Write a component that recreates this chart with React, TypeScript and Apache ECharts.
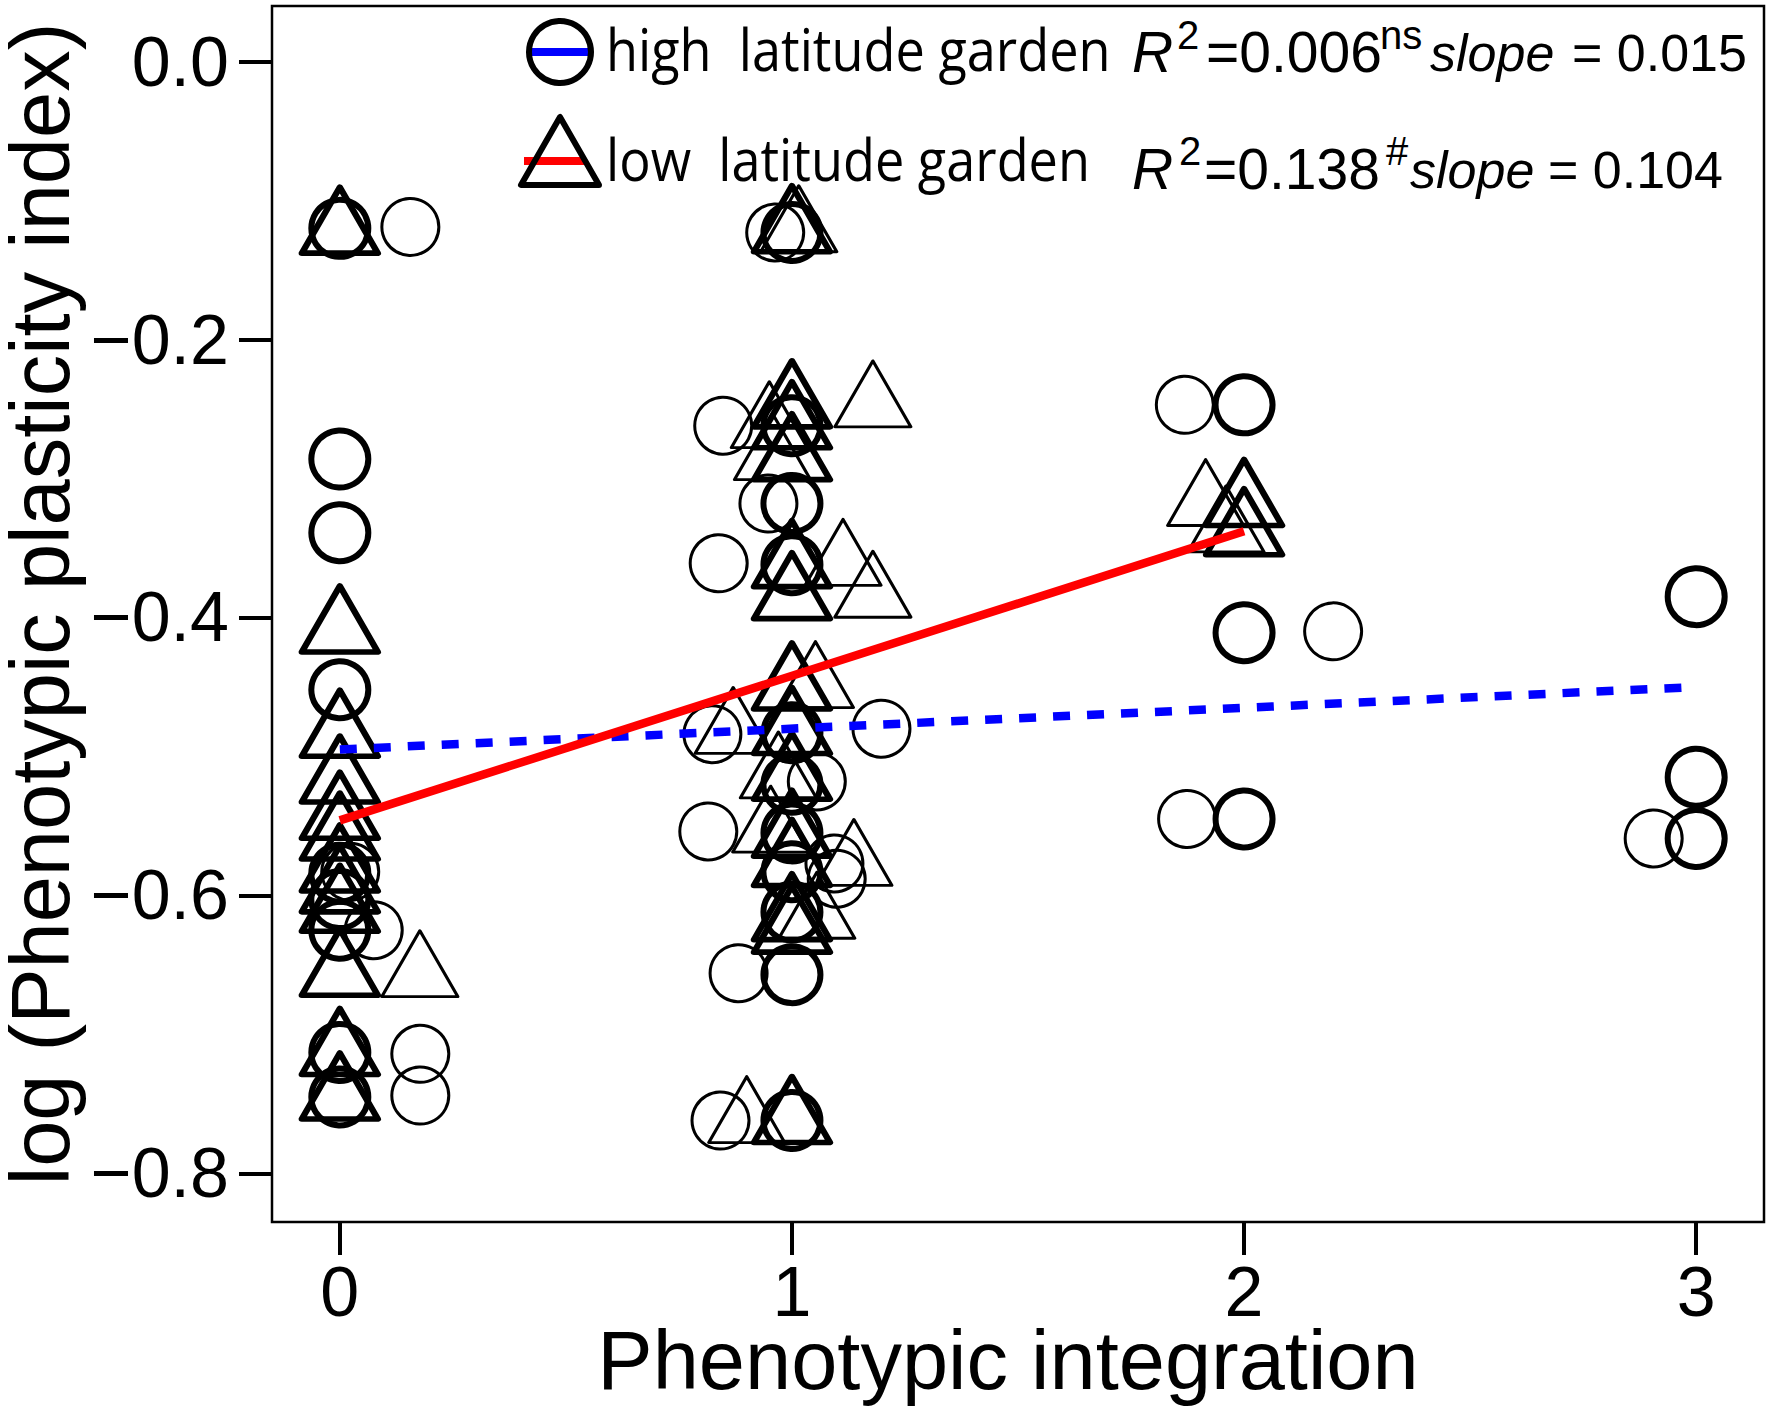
import React, { useEffect, useRef } from 'react';
import * as echarts from 'echarts';

// ---- axis ticks ----
const xTicks = [0, 1, 2, 3];
const yTicks = [0, -0.2, -0.4, -0.6, -0.8];

// ---- high latitude garden (circles) ----
const highExact: number[][] = [
  [0, -0.120], [0, -0.286], [0, -0.339], [0, -0.452], [0, -0.584], [0, -0.603], [0, -0.625], [0, -0.713], [0, -0.745],
  [1, -0.123], [1, -0.262], [1, -0.318], [1, -0.362], [1, -0.483], [1, -0.520], [1, -0.555], [1, -0.583], [1, -0.612], [1, -0.657], [1, -0.762],
  [2, -0.247], [2, -0.411], [2, -0.545],
  [3, -0.385], [3, -0.515], [3, -0.559],
];
const highJitter: number[][] = [
  [0.156, -0.119], [0.023, -0.583], [0.075, -0.625], [0.178, -0.714], [0.178, -0.744],
  [0.963, -0.123], [0.848, -0.262], [0.948, -0.318], [0.838, -0.361], [0.824, -0.484], [1.198, -0.480], [1.055, -0.518],
  [0.815, -0.554], [1.094, -0.577], [1.099, -0.588], [0.882, -0.656], [0.842, -0.762],
  [1.869, -0.247], [2.197, -0.410], [1.874, -0.545],
  [2.906, -0.559],
];

// ---- low latitude garden (triangles) ----
const lowExact: number[][] = [
  [0, -0.122], [0, -0.409], [0, -0.484], [0, -0.517], [0, -0.543], [0, -0.558], [0, -0.581], [0, -0.596], [0, -0.610], [0, -0.656], [0, -0.713], [0, -0.745],
  [1, -0.121], [1, -0.247], [1, -0.262], [1, -0.285], [1, -0.362], [1, -0.385], [1, -0.450], [1, -0.482], [1, -0.515], [1, -0.556], [1, -0.577], [1, -0.616], [1, -0.625], [1, -0.762],
  [2, -0.318], [2, -0.339],
];
const lowJitter: number[][] = [
  [0.177, -0.657],
  [1.015, -0.121], [1.179, -0.247], [0.950, -0.262], [0.957, -0.285], [1.113, -0.361], [1.179, -0.384],
  [1.052, -0.449], [0.870, -0.482], [0.970, -0.514], [0.953, -0.553], [1.137, -0.577], [1.055, -0.615], [0.900, -0.762],
  [1.915, -0.318], [1.960, -0.337],
];

// ---- fitted lines ----
const highFit: number[][] = [[0, -0.495], [3, -0.450]];
const lowFit: number[][] = [[0, -0.546], [2, -0.338]];

// ---- texts ----
const legendLabels = ['high\u00a0 latitude garden', 'low\u00a0 latitude garden'];
const r2Values = ['=0.006', '=0.138'];
const r2Marks = ['ns', '#'];
const slopeValues = ['= 0.015', '= 0.104'];
const xTitle = 'Phenotypic integration';
const yTitle = 'log (Phenotypic plasticity index)';

const HELV = '"Liberation Sans", Arial, Helvetica, sans-serif';
const MYR = '"Open Sans", "Noto Sans", sans-serif';

function textWidth(text: string, font: string): number {
  const c = document.createElement('canvas').getContext('2d');
  if (!c) return 0;
  c.font = font;
  return c.measureText(text).width;
}

function txt(x: number, y: number, text: string, size: number, family: string, extra: any = {}, elExtra: any = {}) {
  return {
    type: 'text',
    x,
    y,
    silent: true,
    ...elExtra,
    style: {
      text,
      x: 0,
      y: 0,
      fill: '#000',
      fontSize: size,
      fontFamily: family,
      align: 'left',
      verticalAlign: 'middle',
      lineHeight: Math.round(size * 0.85),
      ...extra,
    },
  };
}

function buildOption() {
  const legSize = 59;
  const w1 = textWidth(legendLabels[0], `${legSize}px "Open Sans"`) || 560;
  const legScale = 505 / w1;

  const graphic: any[] = [];
  // legend symbols
  graphic.push({
    type: 'line', silent: true,
    shape: { x1: 532, y1: 52, x2: 588, y2: 52 },
    style: { stroke: '#0000ff', lineWidth: 8 },
  });
  graphic.push({
    type: 'circle', silent: true,
    shape: { cx: 560, cy: 52, r: 31 },
    style: { fill: 'none', stroke: '#000', lineWidth: 6 },
  });
  graphic.push({
    type: 'line', silent: true,
    shape: { x1: 524, y1: 161, x2: 586, y2: 161 },
    style: { stroke: '#ff0000', lineWidth: 8 },
  });
  graphic.push({
    type: 'polygon', silent: true,
    shape: { points: [[560, 117], [521, 185], [599, 185]] },
    style: { fill: 'none', stroke: '#000', lineWidth: 6, lineJoin: 'round' },
  });
  // legend labels
  const legBase = [71, 181];
  legendLabels.forEach((lab, i) => {
    graphic.push(txt(606, legBase[i] - 0.388 * legSize, lab, legSize, MYR, {}, { scaleX: legScale }));
  });

  // R^2 and slope annotations
  const base = [71.5, 188.4];
  const supBase = [48.5, 165];
  const rX = [1132, 1132];
  const supX = [1177, 1179];
  const valX = [1206, 1204];
  const markX = [1380, 1386];
  const slopeX = [1430, 1410];
  const slopeValX = [1572, 1548];
  const vSize = 57;
  for (let i = 0; i < 2; i++) {
    const yb = base[i] - 0.3465 * vSize;
    const ys = supBase[i] - 0.3465 * 40;
    const ysl = base[i] - 0.3465 * 52;
    graphic.push(txt(rX[i], yb, 'R', vSize, HELV, { fontStyle: 'italic' }));
    graphic.push(txt(supX[i], ys, '2', 40, HELV));
    graphic.push(txt(valX[i], yb, r2Values[i], vSize, HELV));
    graphic.push(txt(markX[i], ys, r2Marks[i], 40, HELV));
    graphic.push(txt(slopeX[i], ysl, 'slope', 52, HELV, { fontStyle: 'italic' }));
    graphic.push(txt(slopeValX[i], ysl, slopeValues[i], 52, HELV));
  }

  // axis titles
  graphic.push(txt(1008, 1360, xTitle, 83, HELV, { align: 'center' }));
  graphic.push(txt(40, 604, yTitle, 83, HELV, { align: 'center' }, { rotation: Math.PI / 2 }));

  const circleStyle = (w: number) => ({ color: 'rgba(0,0,0,0)', borderColor: '#000', borderWidth: w, opacity: 1 });
  const triStyle = (w: number) => ({ color: 'rgba(0,0,0,0)', borderColor: '#000', borderWidth: w, borderJoin: 'round', opacity: 1 });

  return {
    animation: false,
    backgroundColor: '#ffffff',
    grid: {
      left: 272, top: 6, width: 1492, height: 1216,
      show: true, borderColor: '#000', borderWidth: 2.5, backgroundColor: 'transparent',
    },
    xAxis: {
      type: 'value', min: -0.15, max: 3.15,
      axisLine: { show: false, onZero: false },
      splitLine: { show: false },
      axisTick: { show: true, length: 33, customValues: xTicks, lineStyle: { color: '#000', width: 4 } },
      axisLabel: {
        show: true, customValues: xTicks, margin: 70, fontSize: 70, lineHeight: 56, fontFamily: HELV, color: '#000',
        verticalAlign: 'middle', formatter: (v: number) => String(Math.round(v)),
      },
    },
    yAxis: {
      type: 'value', min: -0.835, max: 0.04,
      axisLine: { show: false, onZero: false },
      splitLine: { show: false },
      axisTick: { show: true, length: 33, customValues: yTicks, lineStyle: { color: '#000', width: 4 } },
      axisLabel: {
        show: true, customValues: yTicks, margin: 43, fontSize: 70, lineHeight: 56, fontFamily: HELV, color: '#000',
        formatter: (v: number) => (Math.abs(v) < 1e-9 ? '0.0' : (v < 0 ? '\u2212' : '') + Math.abs(v).toFixed(1)),
      },
    },
    series: [
      { name: 'high latitude garden', type: 'scatter', data: highJitter, symbol: 'circle', symbolSize: 57, itemStyle: circleStyle(3), z: 2, silent: true },
      { name: 'low latitude garden', type: 'scatter', data: lowJitter, symbol: 'triangle', symbolSize: [76, 66], symbolOffset: [0, -11], itemStyle: triStyle(3), z: 2, silent: true },
      { name: 'high latitude garden', type: 'scatter', data: highExact, symbol: 'circle', symbolSize: 57, itemStyle: circleStyle(6), z: 3, silent: true },
      { name: 'low latitude garden', type: 'scatter', data: lowExact, symbol: 'triangle', symbolSize: [76, 66], symbolOffset: [0, -11], itemStyle: triStyle(6), z: 3, silent: true },
      { name: 'high fit', type: 'line', data: highFit, symbol: 'none', showSymbol: false, silent: true, z: 5,
        lineStyle: { color: '#0000ff', width: 8.5, type: [17, 17], cap: 'butt', opacity: 1 } },
      { name: 'low fit', type: 'line', data: lowFit, symbol: 'none', showSymbol: false, silent: true, z: 5,
        lineStyle: { color: '#ff0000', width: 8.5, type: 'solid', cap: 'butt', opacity: 1 } },
    ],
    graphic,
  };
}

export default function App() {
  const ref = useRef<HTMLDivElement>(null);
  useEffect(() => {
    if (!ref.current) return;
    const chart = echarts.init(ref.current, undefined, { renderer: 'svg' });
    chart.setOption(buildOption() as any);
    return () => chart.dispose();
  }, []);
  return (
    <div
      ref={ref}
      style={{ position: 'absolute', left: 0, top: 0, width: 1769, height: 1409, background: '#fff' }}
    />
  );
}
